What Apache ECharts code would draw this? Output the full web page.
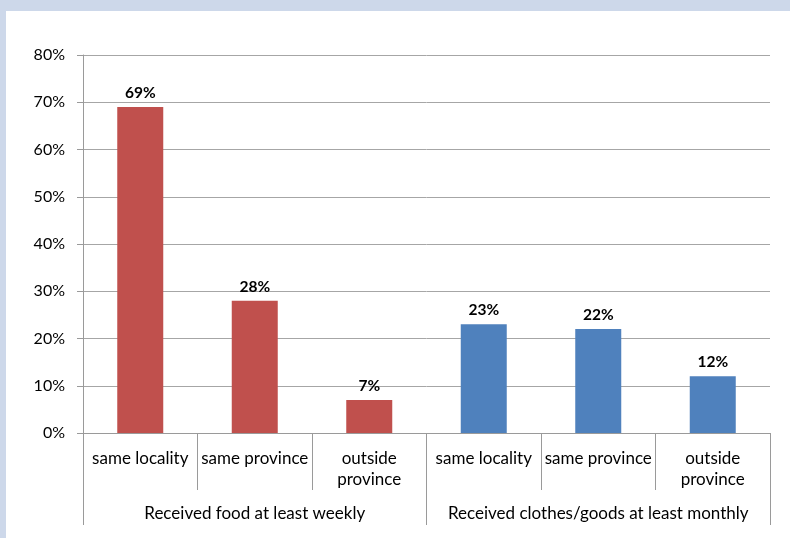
<!DOCTYPE html>
<html>
<head>
<meta charset="utf-8">
<script src="https://cdn.jsdelivr.net/npm/echarts@6/dist/echarts.min.js"></script>
<style>
  html, body { margin: 0; padding: 0; background: #cdd8ea; width: 790px; height: 538px; overflow: hidden; }
  #chart { position: absolute; left: 6px; top: 11px; width: 784px; height: 527px; background: #ffffff; }
</style>
</head>
<body>
<div id="chart"></div>
<script>
// Distance categories within each group
const categories = ['same locality', 'same province', 'outside\nprovince',
                    'same locality', 'same province', 'outside\nprovince'];
// Group headings under the category axis
const groups = ['Received food at least weekly', 'Received clothes/goods at least monthly'];
// Share of respondents (%)
const foodValues = [69, 28, 7];
const goodsValues = [23, 22, 12];
// Value axis range
const yMin = 0, yMax = 80, yStep = 10;

const FONT = 'Lato';
const chart = echarts.init(document.getElementById('chart'));

const foodSeries = foodValues.concat(goodsValues.map(() => '-'));
const goodsSeries = foodValues.map(() => '-').concat(goodsValues);

const labelCfg = {
  show: true, position: 'top', distance: 6,
  formatter: p => p.value + '%',
  fontFamily: FONT, fontSize: 15.5, fontWeight: 'bold', color: '#000'
};

chart.setOption({
  animation: false,
  grid: { left: 77, right: 20, top: 44, bottom: 105, containLabel: false },
  xAxis: [
    {
      type: 'category', data: categories, position: 'bottom',
      axisLine: { show: true, lineStyle: { color: '#9a9a9a', width: 1 } },
      axisTick: { show: true, interval: 0, length: 57, lineStyle: { color: '#9a9a9a' } },
      axisLabel: { interval: 0, margin: 15, fontFamily: FONT, fontSize: 17, color: '#000', lineHeight: 21 }
    },
    {
      type: 'category', data: groups, position: 'bottom', gridIndex: 0,
      axisLine: { show: true, lineStyle: { color: '#9a9a9a', width: 1 } },
      axisTick: { show: true, interval: 0, length: 92, lineStyle: { color: '#9a9a9a' } },
      axisLabel: { interval: 0, margin: 72, fontFamily: FONT, fontSize: 17, color: '#000' }
    }
  ],
  yAxis: {
    type: 'value', min: yMin, max: yMax, interval: yStep,
    axisLine: { show: true, lineStyle: { color: '#9a9a9a' } },
    axisTick: { show: true, length: 6, lineStyle: { color: '#9a9a9a' } },
    splitLine: { show: true, lineStyle: { color: '#a6a6a6', width: 1 } },
    axisLabel: { formatter: '{value}%', margin: 18, fontFamily: FONT, fontSize: 16, color: '#000' }
  },
  series: [
    {
      name: 'food', type: 'bar', stack: 'all', xAxisIndex: 0,
      data: foodSeries, barWidth: 46,
      itemStyle: { color: '#c0504d' }, label: labelCfg
    },
    {
      name: 'goods', type: 'bar', stack: 'all', xAxisIndex: 0,
      data: goodsSeries, barWidth: 46,
      itemStyle: { color: '#4f81bd' }, label: labelCfg
    }
  ]
});
</script>
</body>
</html>
